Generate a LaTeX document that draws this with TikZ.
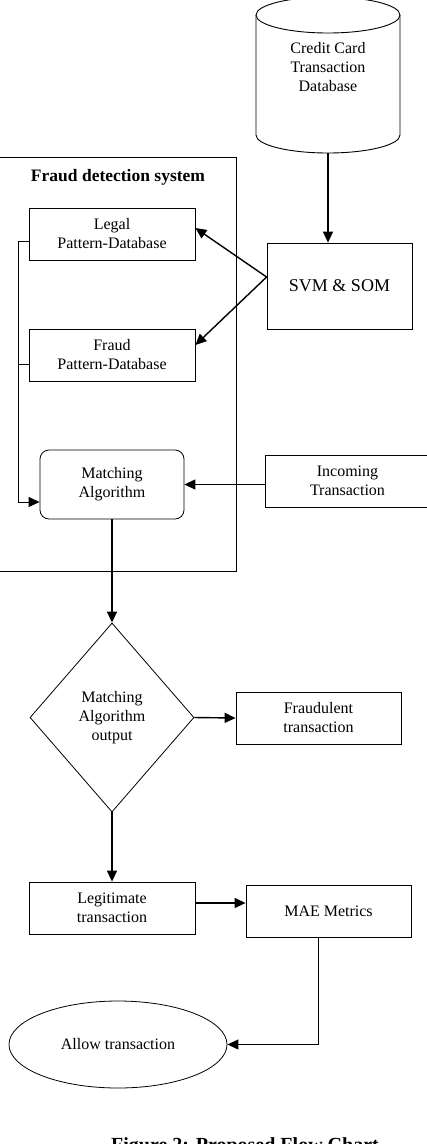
\documentclass[tikz,border=0pt]{standalone}
\usepackage{fontspec}
\setmainfont{Liberation Serif}
\usetikzlibrary{shapes.geometric,arrows.meta}

\begin{document}
\begin{tikzpicture}[x=1pt,y=-1pt,
      box/.style={draw=black,line width=0.8pt,rectangle,align=center,inner sep=0pt,
                  minimum width=166pt,minimum height=52pt,font=\fontsize{16}{19}\selectfont},
      rbox/.style={box,rounded corners=9pt,minimum width=144pt,minimum height=69pt},
      decide/.style={draw=black,line width=0.8pt,diamond,align=center,inner sep=0pt,
                  minimum width=164pt,minimum height=189pt,font=\fontsize{16}{19}\selectfont},
      term/.style={draw=black,line width=0.8pt,ellipse,inner sep=0pt,
                  minimum width=218pt,minimum height=87pt,font=\fontsize{16}{19}\selectfont},
      arr/.style={line width=1.4pt,-{Triangle[length=11pt,width=10pt]}},
      bus/.style={line width=0.9pt}]
         \useasboundingbox (0,0) rectangle (427,1144);

         % database cylinder
         \draw[line width=0.9pt] (256,15) -- (256,135)
               arc[start angle=180,end angle=0,x radius=72,y radius=18] -- (400,15);
         \draw[line width=0.9pt] (328,15) ellipse[x radius=72,y radius=18];
         \node[align=center,font=\fontsize{16}{19}\selectfont,name=db] at (328,67)
               {Credit Card\\Transaction\\Database};
         \coordinate (dbbot) at (328,153);

         % fraud detection system frame
         \draw[line width=0.9pt] (-5,157) rectangle (236,571);
         \node[font=\fontsize{17.5}{20}\bfseries\selectfont,name=title] at (118,177) {Fraud detection system};

         \node[box,name=legal] at (112,234) {Legal\\Pattern-Database};
         \node[box,name=fraud] at (112,355) {Fraud\\Pattern-Database};
         \node[rbox,name=match] at (112,484.5) {Matching\\Algorithm};

         \node[box,minimum width=145pt,minimum height=86pt,
               font=\fontsize{18}{21}\selectfont,name=svm] at (339.5,286) {SVM \& SOM};
         \node[box,minimum width=165pt,name=incoming] at (347.5,481) {Incoming\\Transaction};

         \node[decide,name=dec] at (112,717.5) {Matching\\Algorithm\\output};
         \node[box,minimum width=165pt,name=fraudt] at (318.5,718) {Fraudulent\\transaction};
         \node[box,name=legit] at (112,908) {Legitimate\\transaction};
         \node[box,minimum width=165pt,name=mae] at (328.5,911) {MAE Metrics};
         \node[term,name=allow] at (118,1044.5) {Allow transaction};

         \node[font=\fontsize{20}{24}\bfseries\selectfont,anchor=base,name=caption] at (245,1151)
               {Figure 2: Proposed Flow Chart};

         \draw[arr] (dbbot) -- (dbbot |- svm.north);
         \draw[arr] ([yshift=9pt]svm.west) -- ([yshift=6pt]legal.east);
         \draw[arr] ([yshift=9pt]svm.west) -- ([yshift=10pt]fraud.east);

         \draw[bus] ([yshift=-7pt]legal.west) -- ++(-10,0) coordinate (busx);
         \draw[bus] ([yshift=-9pt]fraud.west) -- ++(-10,0);
         \draw[arr,line width=0.9pt] (busx) |- ([yshift=-17.5pt]match.west);

         \draw[arr] (incoming.west |- match.east) -- (match.east);
         \draw[arr] (match.south) -- (dec.north);
         \draw[arr] (dec.east) -- (fraudt.west);
         \draw[arr] (dec.south) -- (legit.north);
         \draw[arr] ([yshift=5pt]legit.east) -- ([yshift=5pt]legit.east -| mae.west);
         \draw[arr,line width=0.9pt] ([xshift=-10pt]mae.south) |- (allow.east);
      \end{tikzpicture}
\end{document}
